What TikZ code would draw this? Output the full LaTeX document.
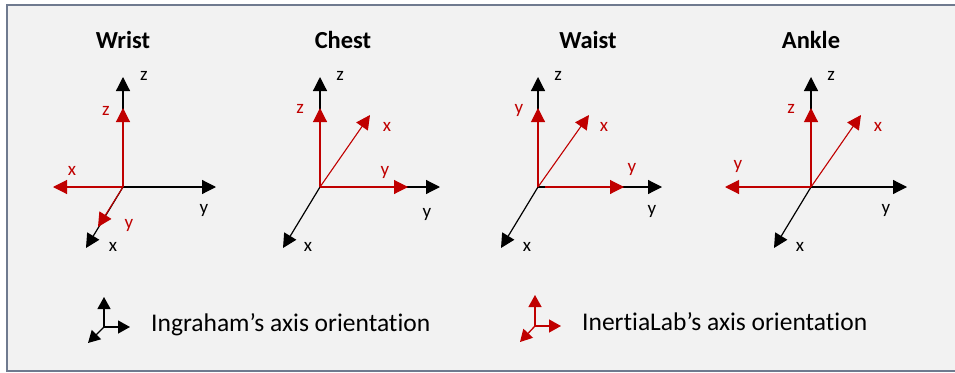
\documentclass[tikz,border=0pt]{standalone}
\usepackage{fontspec}
\setmainfont{Carlito}[Ligatures={NoCommon,NoContextual,NoRequired}]
\usetikzlibrary{arrows.meta}
\definecolor{bgfill}{HTML}{F2F2F2}
\definecolor{frame}{HTML}{6F7A8F}
\definecolor{ired}{HTML}{C00000}
\tikzset{
  blkax/.style={draw=black, line width=1.2pt, -{Triangle[length=14pt,width=14pt]}},
  redax/.style={draw=ired, line width=1.1pt, -{Triangle[length=14pt,width=14pt]}},
  blkleg/.style={draw=black, line width=1.3pt, -{Triangle[length=12pt,width=13pt]}},
  redleg/.style={draw=ired, line width=1.3pt, -{Triangle[length=12pt,width=13pt]}},
  blab/.style={font=\fontsize{19}{21}\selectfont, text=black, inner sep=0pt},
  rlab/.style={font=\fontsize{19}{21}\selectfont, text=ired, inner sep=0pt},
  ttl/.style={font=\fontsize{24.5}{27}\bfseries\selectfont, inner sep=0pt},
  legtxt/.style={font=\fontsize{25.5}{28}\selectfont, anchor=west, inner sep=0pt},
}
\begin{document}
\begin{tikzpicture}[x=1pt,y=-1pt]
\useasboundingbox (0,0) rectangle (955,372);
\fill[white] (0,0) rectangle (955,372);
\fill[bgfill] (7,5) rectangle (960,371);
\draw[frame, line width=1.3pt] (960,5) -- (7,5) -- (7,371) -- (960,371);

% ---------- Wrist ----------
\node[ttl] (tW) at (123,40) {Wrist};
\coordinate (wO) at (123,187);
\coordinate (wZ) at (123,77);
\coordinate (wY) at (216,187);
\coordinate (wX) at (86,248);
\coordinate (wrZ) at (123,108);
\coordinate (wrX) at (53,187);
\coordinate (wrY) at (98,227);
\draw[blkax] (wO) -- (wZ);
\draw[blkax] (wO) -- (wY);
\draw[blkax] (wO) -- (wX);
\draw[redax] (wO) -- (wrZ);
\draw[redax] (wO) -- (wrX);
\draw[redax] (wO) -- (wrY);
\node[blab] (wlz) at (144,76) {z};
\node[blab] (wly) at (204,210) {y};
\node[blab] (wlx) at (113,247) {x};
\node[rlab] (wrlz) at (106,111) {z};
\node[rlab] (wrlx) at (72,171) {x};
\node[rlab] (wrly) at (129,225) {y};

% ---------- Chest ----------
\node[ttl] (tC) at (343,40) {Chest};
\coordinate (cO) at (320,187);
\coordinate (cZ) at (320,77);
\coordinate (cY) at (440,187);
\coordinate (cX) at (283,248);
\coordinate (crZ) at (320,108);
\coordinate (crX) at (370,115);
\coordinate (crY) at (408,187);
\draw[blkax] (cO) -- (cZ);
\draw[blkax] (cO) -- (cY);
\draw[blkax] (cO) -- (cX);
\draw[redax] (cO) -- (crZ);
\draw[redax] (cO) -- (crX);
\draw[redax] (cO) -- (crY);
\node[blab] (clz) at (340,76) {z};
\node[blab] (cly) at (427,214) {y};
\node[blab] (clx) at (308,247) {x};
\node[rlab] (crlz) at (300,109) {z};
\node[rlab] (crlx) at (387,127) {x};
\node[rlab] (crly) at (385,172) {y};

% ---------- Waist ----------
\node[ttl] (tWa) at (588,40) {Waist};
\coordinate (aO) at (538,187);
\coordinate (aZ) at (538,77);
\coordinate (aY) at (662,187);
\coordinate (aX) at (501,248);
\coordinate (arZ) at (538,108);
\coordinate (arX) at (589,115);
\coordinate (arYs) at (545,187);
\coordinate (arY) at (624,187);
\draw[blkax] (aO) -- (aZ);
\draw[blkax] (aO) -- (aY);
\draw[blkax] (aO) -- (aX);
\draw[redax] (aO) -- (arZ);
\draw[redax] (aO) -- (arX);
\draw[redax] (arYs) -- (arY);
\node[blab] (alz) at (558,76) {z};
\node[blab] (aly) at (652,211) {y};
\node[blab] (alx) at (527,247) {x};
\node[rlab] (arly1) at (519,110) {y};
\node[rlab] (arlx) at (604,127) {x};
\node[rlab] (arly2) at (632,169) {y};

% ---------- Ankle ----------
\node[ttl] (tA) at (811,40) {Ankle};
\coordinate (kO) at (811,187);
\coordinate (kZ) at (811,77);
\coordinate (kY) at (907,187);
\coordinate (kX) at (774,248);
\coordinate (krZ) at (811,108);
\coordinate (krX) at (861,115);
\coordinate (krY) at (725,187);
\draw[blkax] (kO) -- (kZ);
\draw[blkax] (kO) -- (kY);
\draw[blkax] (kO) -- (kX);
\draw[redax] (kO) -- (krZ);
\draw[redax] (kO) -- (krX);
\draw[redax] (kO) -- (krY);
\node[blab] (klz) at (831,76) {z};
\node[blab] (kly) at (886,210) {y};
\node[blab] (klx) at (800,247) {x};
\node[rlab] (krlz) at (791,109) {z};
\node[rlab] (krlx) at (878,127) {x};
\node[rlab] (krly) at (738,166) {y};

% ---------- Legend ----------
\coordinate (l1O) at (104,327);
\coordinate (l1U) at (104,297);
\coordinate (l1R) at (130,327);
\coordinate (l1D) at (88,343);
\draw[blkleg] (l1O) -- (l1U);
\draw[blkleg] (l1O) -- (l1R);
\draw[blkleg] (l1O) -- (l1D);
\node[legtxt] (l1t) at (151,325) {Ingraham’s axis orientation};

\coordinate (l2O) at (535,326);
\coordinate (l2U) at (535,295);
\coordinate (l2R) at (561,326);
\coordinate (l2D) at (520,342);
\draw[redleg] (l2O) -- (l2U);
\draw[redleg] (l2O) -- (l2R);
\draw[redleg] (l2O) -- (l2D);
\node[legtxt] (l2t) at (582,322) {InertiaLab’s axis orientation};
\end{tikzpicture}
\end{document}
